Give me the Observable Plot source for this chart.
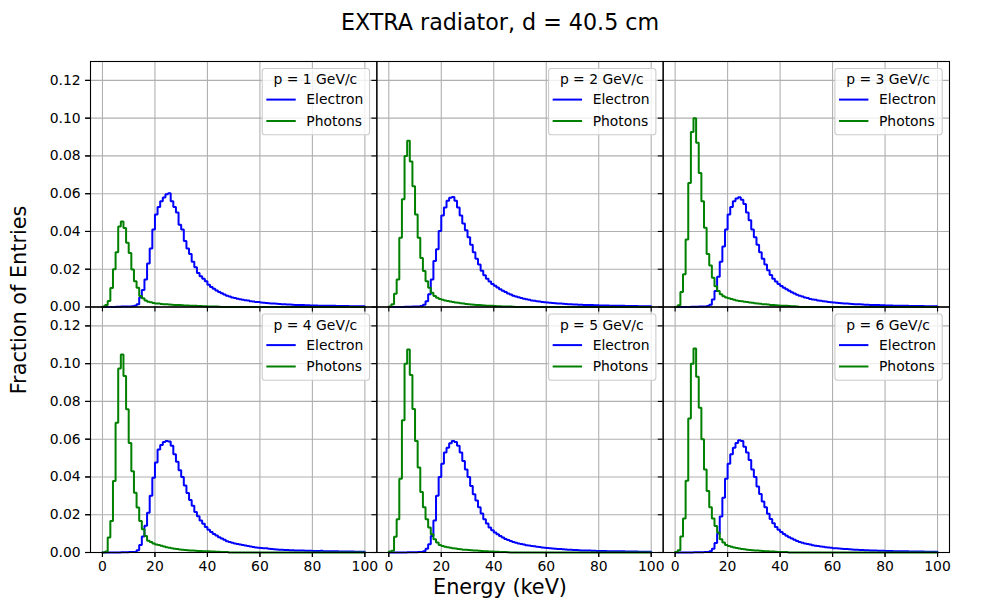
<!DOCTYPE html>
<html><head><meta charset="utf-8">
<script src="https://cdn.jsdelivr.net/npm/d3@7"></script>
<script src="https://cdn.jsdelivr.net/npm/@observablehq/plot@0.6"></script>
<style>
body{margin:0;background:#fff;}
#chart{position:relative;width:1000px;height:600px;}
</style></head><body><div id="chart"></div>
<script>
const momenta = [1, 2, 3, 4, 5, 6];
const seriesNames = ["Electron", "Photons"];
const seriesColors = ["#0000ff", "#008000"];
const xTicks = [0, 20, 40, 60, 80, 100];
const yTicks = [0, 0.02, 0.04, 0.06, 0.08, 0.10, 0.12];

const electron1 = [
0, 0, 0, 0, 0, 0.0001, 0.0001, 0.0002, 0.0002, 0.0002,
0.0003, 0.0004, 0.0007, 0.0014, 0.0050, 0.0090, 0.0146, 0.0230, 0.0310, 0.0410,
0.0490, 0.0530, 0.0560, 0.0580, 0.0597, 0.0603, 0.0560, 0.0530, 0.0500, 0.0435,
0.0410, 0.0350, 0.0310, 0.0280, 0.0240, 0.0210, 0.0180, 0.0163, 0.0150, 0.0137,
0.0118, 0.0106, 0.0097, 0.0088, 0.0080, 0.0073, 0.0066, 0.0060, 0.0055, 0.0050,
0.0047, 0.0044, 0.0041, 0.0038, 0.0036, 0.0034, 0.0031, 0.0029, 0.0027, 0.0026,
0.0024, 0.0023, 0.0021, 0.0020, 0.0019, 0.0018, 0.0017, 0.0016, 0.0015, 0.0014,
0.0013, 0.0013, 0.0012, 0.0011, 0.0011, 0.0010, 0.0010, 0.0009, 0.0009, 0.0008,
0.0008, 0.0008, 0.0007, 0.0007, 0.0007, 0.0006, 0.0006, 0.0006, 0.0006, 0.0005,
0.0005, 0.0005, 0.0005, 0.0005, 0.0004, 0.0004, 0.0004, 0.0004, 0.0004, 0.0004];
const photon1 = [
0.0003, 0.0010, 0.0032, 0.0100, 0.0200, 0.0290, 0.0426, 0.0453, 0.0418, 0.0340,
0.0286, 0.0198, 0.0137, 0.0102, 0.0058, 0.0046, 0.0035, 0.0028, 0.0025, 0.0021,
0.0019, 0.0018, 0.0016, 0.0015, 0.0014, 0.0013, 0.0012, 0.0011, 0.0010, 0.0010,
0.0009, 0.0008, 0.0008, 0.0007, 0.0006, 0.0006, 0.0005, 0.0005, 0.0004, 0.0004,
0.0003, 0.0003, 0.0002, 0.0002, 0.0001, 0, 0, 0, 0, 0,
0, 0, 0, 0, 0, 0, 0, 0, 0, 0,
0, 0, 0, 0, 0, 0, 0, 0, 0, 0,
0, 0, 0, 0, 0, 0, 0, 0, 0, 0,
0, 0, 0, 0, 0, 0, 0, 0, 0, 0,
0, 0, 0, 0, 0, 0, 0, 0, 0, 0];

const electron2 = [
0, 0, 0, 0, 0, 0, 0.0001, 0.0001, 0.0001, 0.0002,
0.0002, 0.0003, 0.0005, 0.0012, 0.0030, 0.0067, 0.0146, 0.0244, 0.0306, 0.0403,
0.0485, 0.0527, 0.0563, 0.0578, 0.0582, 0.0563, 0.0527, 0.0485, 0.0442, 0.0407,
0.0370, 0.0330, 0.0290, 0.0255, 0.0225, 0.0192, 0.0168, 0.0150, 0.0135, 0.0122,
0.0112, 0.0103, 0.0094, 0.0086, 0.0079, 0.0072, 0.0066, 0.0060, 0.0055, 0.0051,
0.0047, 0.0044, 0.0041, 0.0038, 0.0035, 0.0033, 0.0031, 0.0029, 0.0027, 0.0025,
0.0024, 0.0022, 0.0021, 0.0020, 0.0019, 0.0018, 0.0017, 0.0016, 0.0015, 0.0014,
0.0013, 0.0013, 0.0012, 0.0012, 0.0011, 0.0010, 0.0010, 0.0010, 0.0009, 0.0009,
0.0008, 0.0008, 0.0008, 0.0008, 0.0007, 0.0007, 0.0006, 0.0006, 0.0006, 0.0006,
0.0005, 0.0005, 0.0005, 0.0005, 0.0005, 0.0004, 0.0004, 0.0004, 0.0004, 0.0004];
const photon2 = [
0.0003, 0.0014, 0.0070, 0.0146, 0.0367, 0.0570, 0.0800, 0.0880, 0.0770, 0.0640,
0.0490, 0.0367, 0.0260, 0.0190, 0.0137, 0.0102, 0.0076, 0.0058, 0.0049, 0.0042,
0.0038, 0.0035, 0.0032, 0.0029, 0.0026, 0.0024, 0.0022, 0.0020, 0.0018, 0.0016,
0.0015, 0.0013, 0.0012, 0.0011, 0.0010, 0.0009, 0.0008, 0.0007, 0.0006, 0.0006,
0.0005, 0.0004, 0.0004, 0.0003, 0.0003, 0.0002, 0.0002, 0.0001, 0, 0,
0, 0, 0, 0, 0, 0, 0, 0, 0, 0,
0, 0, 0, 0, 0, 0, 0, 0, 0, 0,
0, 0, 0, 0, 0, 0, 0, 0, 0, 0,
0, 0, 0, 0, 0, 0, 0, 0, 0, 0,
0, 0, 0, 0, 0, 0, 0, 0, 0, 0];

const electron3 = [
0, 0, 0, 0, 0, 0, 0.0001, 0.0001, 0.0001, 0.0002,
0.0002, 0.0003, 0.0005, 0.0012, 0.0040, 0.0085, 0.0160, 0.0240, 0.0320, 0.0410,
0.0490, 0.0530, 0.0560, 0.0575, 0.0581, 0.0568, 0.0545, 0.0500, 0.0460, 0.0410,
0.0370, 0.0330, 0.0290, 0.0255, 0.0225, 0.0195, 0.0170, 0.0150, 0.0135, 0.0122,
0.0111, 0.0102, 0.0094, 0.0086, 0.0078, 0.0071, 0.0065, 0.0060, 0.0055, 0.0050,
0.0047, 0.0043, 0.0040, 0.0038, 0.0035, 0.0033, 0.0031, 0.0029, 0.0027, 0.0025,
0.0024, 0.0022, 0.0021, 0.0020, 0.0019, 0.0018, 0.0017, 0.0016, 0.0015, 0.0014,
0.0014, 0.0013, 0.0012, 0.0012, 0.0011, 0.0011, 0.0010, 0.0010, 0.0009, 0.0009,
0.0008, 0.0008, 0.0008, 0.0007, 0.0007, 0.0007, 0.0006, 0.0006, 0.0006, 0.0005,
0.0005, 0.0005, 0.0005, 0.0005, 0.0005, 0.0004, 0.0004, 0.0004, 0.0004, 0.0004];
const photon3 = [
0, 0.0009, 0.0079, 0.0173, 0.0358, 0.0657, 0.0927, 0.1000, 0.0870, 0.0710,
0.0560, 0.0420, 0.0280, 0.0220, 0.0155, 0.0110, 0.0085, 0.0067, 0.0057, 0.0050,
0.0046, 0.0042, 0.0038, 0.0035, 0.0032, 0.0030, 0.0028, 0.0026, 0.0024, 0.0022,
0.0020, 0.0018, 0.0017, 0.0015, 0.0014, 0.0013, 0.0011, 0.0010, 0.0009, 0.0008,
0.0007, 0.0006, 0.0006, 0.0005, 0.0004, 0.0004, 0.0003, 0, 0, 0,
0, 0, 0, 0, 0, 0, 0, 0, 0, 0,
0, 0, 0, 0, 0, 0, 0, 0, 0, 0,
0, 0, 0, 0, 0, 0, 0, 0, 0, 0,
0, 0, 0, 0, 0, 0, 0, 0, 0, 0,
0, 0, 0, 0, 0, 0, 0, 0, 0, 0];

const electron4 = [
0, 0, 0, 0, 0, 0, 0, 0.0001, 0.0001, 0.0001,
0.0002, 0.0002, 0.0003, 0.0012, 0.0040, 0.0085, 0.0141, 0.0211, 0.0300, 0.0396,
0.0476, 0.0546, 0.0569, 0.0585, 0.0590, 0.0588, 0.0565, 0.0520, 0.0480, 0.0435,
0.0400, 0.0355, 0.0315, 0.0278, 0.0248, 0.0215, 0.0192, 0.0170, 0.0152, 0.0135,
0.0120, 0.0108, 0.0098, 0.0090, 0.0081, 0.0074, 0.0067, 0.0060, 0.0055, 0.0051,
0.0048, 0.0045, 0.0042, 0.0040, 0.0037, 0.0034, 0.0032, 0.0029, 0.0027, 0.0025,
0.0024, 0.0023, 0.0022, 0.0020, 0.0019, 0.0017, 0.0016, 0.0015, 0.0014, 0.0013,
0.0013, 0.0012, 0.0012, 0.0011, 0.0011, 0.0010, 0.0010, 0.0009, 0.0009, 0.0009,
0.0008, 0.0008, 0.0008, 0.0009, 0.0007, 0.0007, 0.0006, 0.0006, 0.0006, 0.0006,
0.0005, 0.0005, 0.0005, 0.0005, 0.0005, 0.0005, 0.0004, 0.0004, 0.0004, 0.0004];
const photon4 = [
0, 0.0005, 0.0079, 0.0167, 0.0379, 0.0687, 0.0974, 0.1048, 0.0934, 0.0758,
0.0580, 0.0430, 0.0317, 0.0238, 0.0167, 0.0123, 0.0088, 0.0062, 0.0055, 0.0048,
0.0043, 0.0040, 0.0036, 0.0032, 0.0028, 0.0025, 0.0022, 0.0020, 0.0018, 0.0016,
0.0015, 0.0013, 0.0012, 0.0011, 0.0010, 0.0009, 0.0008, 0.0008, 0.0007, 0.0006,
0.0006, 0.0005, 0.0005, 0.0004, 0.0004, 0.0003, 0.0003, 0.0002, 0, 0,
0, 0, 0, 0, 0, 0, 0, 0, 0, 0,
0, 0, 0, 0, 0, 0, 0, 0, 0, 0,
0, 0, 0, 0, 0, 0, 0, 0, 0, 0,
0, 0, 0, 0, 0, 0, 0, 0, 0, 0,
0, 0, 0, 0, 0, 0, 0, 0, 0, 0];

const electron5 = [
0, 0, 0, 0, 0, 0, 0, 0.0001, 0.0001, 0.0001,
0.0001, 0.0002, 0.0003, 0.0006, 0.0020, 0.0044, 0.0088, 0.0170, 0.0300, 0.0400,
0.0470, 0.0529, 0.0555, 0.0578, 0.0590, 0.0585, 0.0565, 0.0529, 0.0485, 0.0440,
0.0400, 0.0352, 0.0308, 0.0276, 0.0240, 0.0206, 0.0176, 0.0153, 0.0132, 0.0118,
0.0106, 0.0097, 0.0088, 0.0079, 0.0072, 0.0066, 0.0061, 0.0056, 0.0052, 0.0048,
0.0045, 0.0042, 0.0039, 0.0037, 0.0035, 0.0033, 0.0031, 0.0029, 0.0027, 0.0025,
0.0024, 0.0022, 0.0021, 0.0020, 0.0019, 0.0018, 0.0017, 0.0016, 0.0015, 0.0014,
0.0013, 0.0013, 0.0012, 0.0011, 0.0011, 0.0010, 0.0010, 0.0009, 0.0009, 0.0008,
0.0008, 0.0008, 0.0008, 0.0007, 0.0007, 0.0007, 0.0006, 0.0006, 0.0006, 0.0006,
0.0005, 0.0005, 0.0005, 0.0005, 0.0005, 0.0004, 0.0004, 0.0004, 0.0004, 0.0004];
const photon5 = [
0.0005, 0.0009, 0.0083, 0.0176, 0.0390, 0.0700, 0.1000, 0.1075, 0.0940, 0.0760,
0.0590, 0.0450, 0.0320, 0.0240, 0.0176, 0.0132, 0.0097, 0.0070, 0.0053, 0.0040,
0.0035, 0.0031, 0.0028, 0.0025, 0.0023, 0.0021, 0.0019, 0.0017, 0.0015, 0.0014,
0.0013, 0.0012, 0.0011, 0.0010, 0.0009, 0.0008, 0.0007, 0.0006, 0.0005, 0.0005,
0.0004, 0.0004, 0.0003, 0.0003, 0.0002, 0.0001, 0, 0, 0, 0,
0, 0, 0, 0, 0, 0, 0, 0, 0, 0,
0, 0, 0, 0, 0, 0, 0, 0, 0, 0,
0, 0, 0, 0, 0, 0, 0, 0, 0, 0,
0, 0, 0, 0, 0, 0, 0, 0, 0, 0,
0, 0, 0, 0, 0, 0, 0, 0, 0, 0];

const electron6 = [
0, 0, 0, 0, 0, 0, 0, 0.0001, 0.0001, 0.0001,
0.0001, 0.0002, 0.0003, 0.0006, 0.0020, 0.0050, 0.0100, 0.0190, 0.0290, 0.0390,
0.0470, 0.0520, 0.0555, 0.0580, 0.0594, 0.0590, 0.0560, 0.0530, 0.0490, 0.0440,
0.0400, 0.0350, 0.0310, 0.0270, 0.0240, 0.0205, 0.0178, 0.0155, 0.0135, 0.0120,
0.0108, 0.0098, 0.0089, 0.0081, 0.0074, 0.0067, 0.0061, 0.0056, 0.0052, 0.0048,
0.0045, 0.0042, 0.0039, 0.0036, 0.0034, 0.0032, 0.0030, 0.0028, 0.0026, 0.0025,
0.0023, 0.0022, 0.0021, 0.0020, 0.0019, 0.0018, 0.0017, 0.0016, 0.0015, 0.0014,
0.0013, 0.0013, 0.0012, 0.0012, 0.0011, 0.0010, 0.0010, 0.0009, 0.0009, 0.0009,
0.0008, 0.0008, 0.0008, 0.0007, 0.0007, 0.0007, 0.0006, 0.0006, 0.0006, 0.0005,
0.0005, 0.0005, 0.0005, 0.0005, 0.0005, 0.0004, 0.0004, 0.0004, 0.0004, 0.0004];
const photon6 = [
0.0003, 0.0012, 0.0085, 0.0180, 0.0380, 0.0710, 0.1000, 0.1080, 0.0930, 0.0767,
0.0600, 0.0440, 0.0326, 0.0240, 0.0180, 0.0140, 0.0106, 0.0070, 0.0053, 0.0040,
0.0035, 0.0031, 0.0027, 0.0024, 0.0021, 0.0019, 0.0017, 0.0015, 0.0013, 0.0012,
0.0011, 0.0010, 0.0009, 0.0008, 0.0007, 0.0006, 0.0005, 0.0005, 0.0004, 0.0003,
0.0003, 0.0002, 0.0002, 0, 0, 0, 0, 0, 0, 0,
0, 0, 0, 0, 0, 0, 0, 0, 0, 0,
0, 0, 0, 0, 0, 0, 0, 0, 0, 0,
0, 0, 0, 0, 0, 0, 0, 0, 0, 0,
0, 0, 0, 0, 0, 0, 0, 0, 0, 0,
0, 0, 0, 0, 0, 0, 0, 0, 0, 0];

// 1 keV bins from 0 to 100 keV
const binEdges = d3.range(0, 101);

const electronSets = [electron1, electron2, electron3, electron4, electron5, electron6];
const photonSets = [photon1, photon2, photon3, photon4, photon5, photon6];

// step outline points (like histtype="step")
const rows = [];
momenta.forEach((p, i) => {
  const col = i % 3, row = Math.floor(i / 3);
  [[seriesNames[0], electronSets[i]], [seriesNames[1], photonSets[i]]].forEach(([name, vals]) => {
    const n = vals.length;
    const pts = [{x: binEdges[0], y: 0}];
    vals.forEach((v, k) => pts.push({x: binEdges[k], y: v}));
    pts.push({x: binEdges[n], y: vals[n - 1]});
    pts.push({x: binEdges[n], y: 0});
    pts.forEach(pt => rows.push({...pt, p, col, row, series: name}));
  });
});

const W = 1000, H = 600, mL = 90, mR = 51, mT = 61, mB = 48;
const font = "DejaVu Sans, sans-serif";

const plot = Plot.plot({
  width: W, height: H,
  marginLeft: mL, marginRight: mR, marginTop: mT, marginBottom: mB,
  style: {fontFamily: font, fontSize: "13.9px", color: "black", background: "white", overflow: "visible"},
  fx: {domain: [0, 1, 2], padding: 0, paddingInner: 0, paddingOuter: 0, axis: null, round: false},
  fy: {domain: [0, 1], padding: 0, paddingInner: 0, paddingOuter: 0, axis: null, round: false},
  x: {domain: [-4.56, 104.56]},
  y: {domain: [0, 0.13]},
  color: {domain: seriesNames, range: seriesColors},
  marks: [
    Plot.gridX(xTicks, {stroke: "#b0b0b0", strokeOpacity: 1, strokeWidth: 1.1}),
    Plot.gridY(yTicks, {stroke: "#b0b0b0", strokeOpacity: 1, strokeWidth: 1.1}),
    Plot.line(rows, {x: "x", y: "y", z: "series", stroke: "series", fx: "col", fy: "row",
      curve: "step-after", strokeWidth: 2, strokeLinejoin: "miter"}),
    Plot.axisX(xTicks, {tickSize: 4.9, tickPadding: 3.5, tickFormat: d => String(d), label: null, fontSize: 13.9, stroke: "black", strokeWidth: 1.1}),
    Plot.axisY(yTicks, {tickSize: 4.9, tickPadding: 4.9, tickFormat: d3.format(".2f"), label: null, fontSize: 13.9, stroke: "black", strokeWidth: 1.1}),
    Plot.axisX(xTicks, {tickSize: 4.9, tickFormat: () => "", label: null, facetAnchor: null, stroke: "black", strokeWidth: 1.1}),
    Plot.axisY(yTicks, {tickSize: 4.9, tickFormat: () => "", label: null, facetAnchor: null, stroke: "black", strokeWidth: 1.1}),
    Plot.frame({stroke: "black", strokeWidth: 1.1})
  ]
});

document.getElementById("chart").appendChild(plot);
const svg = d3.select(plot);

// titles
svg.append("text").attr("x", 500).attr("y", 29.5).attr("text-anchor", "middle")
  .attr("font-family", font).attr("font-size", "22.2px").attr("fill", "black")
  .text("EXTRA radiator, d = 40.5 cm");
svg.append("text").attr("x", 500).attr("y", 594).attr("text-anchor", "middle")
  .attr("font-family", font).attr("font-size", "20.8px").attr("fill", "black")
  .text("Energy (keV)");
svg.append("text").attr("transform", "translate(26,300) rotate(-90)").attr("text-anchor", "middle")
  .attr("font-family", font).attr("font-size", "20.8px").attr("fill", "black")
  .text("Fraction of Entries");

// legends
const bw = (W - mL - mR) / 3, bh = (H - mT - mB) / 2;
const boxW = 107.3, boxH = 66.3;
momenta.forEach((p, i) => {
  const c = i % 3, r = Math.floor(i / 3);
  const right = mL + (c + 1) * bw, top = mT + r * bh;
  const g = svg.append("g").attr("transform", `translate(${right - 7.3 - boxW},${top + 7})`)
    .attr("font-family", font).attr("font-size", "13.9px");
  g.append("rect").attr("x", 0.5).attr("y", 0.5).attr("width", boxW).attr("height", boxH).attr("rx", 2.8)
    .attr("fill", "white").attr("fill-opacity", 0.8).attr("stroke", "#cccccc").attr("stroke-width", 1.1);
  g.append("text").attr("x", boxW / 2).attr("y", 11.3).attr("dy", "0.35em").attr("text-anchor", "middle")
    .attr("fill", "black").text(`p = ${p} GeV/c`);
  seriesNames.forEach((name, j) => {
    const yy = 31.6 + j * 21.4;
    g.append("line").attr("x1", 4.6).attr("x2", 34).attr("y1", yy).attr("y2", yy)
      .attr("stroke", seriesColors[j]).attr("stroke-width", 2);
    g.append("text").attr("x", 44.6).attr("y", yy).attr("dy", "0.35em").attr("text-anchor", "start")
      .attr("fill", "black").text(name);
  });
});
</script>
</body></html>
